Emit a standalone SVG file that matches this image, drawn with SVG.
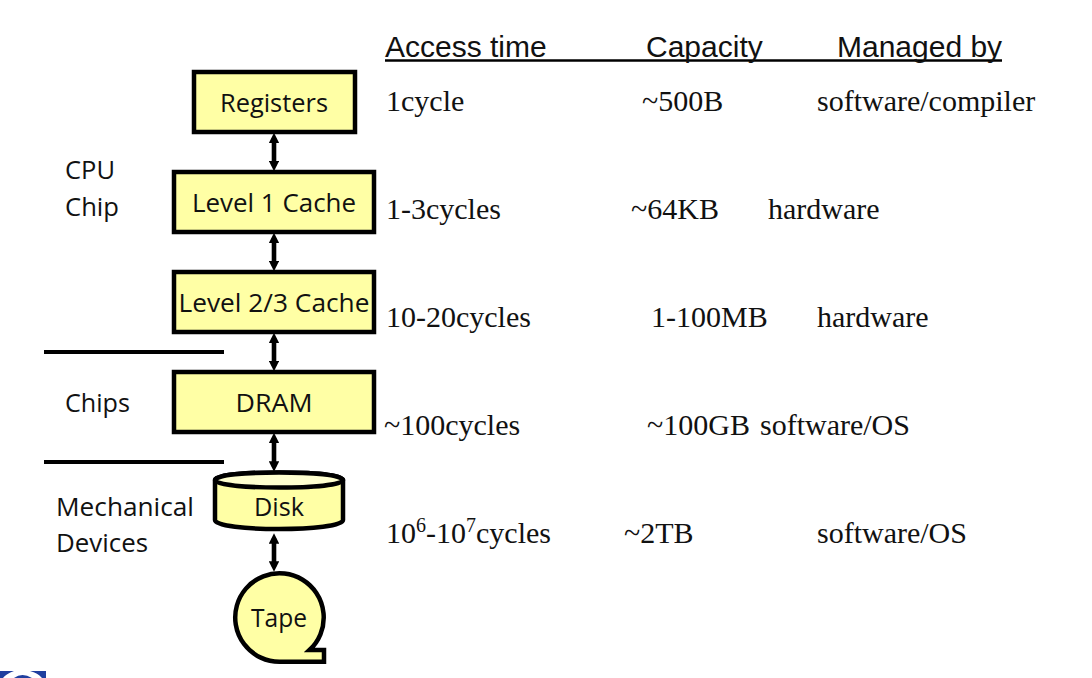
<svg xmlns="http://www.w3.org/2000/svg" width="1092" height="678" viewBox="0 0 1092 678">
<defs>
<marker id="a" viewBox="0 0 10 10" refX="5" refY="5" markerWidth="2.3" markerHeight="2.3" orient="auto-start-reverse" markerUnits="strokeWidth"><path d="M0 0L10 5L0 10Z" fill="#000"/></marker>
</defs>
<style>
.b{fill:#ffffa5;stroke:#000;stroke-width:4.5}
.s{font-family:"Open Sans","Noto Sans",sans-serif;font-size:26px;fill:#111;text-anchor:middle}
.l{font-family:"Open Sans","Noto Sans",sans-serif;font-size:26px;fill:#111}
.t{font-family:"Liberation Serif",serif;font-size:30px;fill:#111}
.h{font-family:"Liberation Sans",sans-serif;font-size:30px;fill:#111}
.c{stroke:#000;stroke-width:4.6;fill:none;marker-start:url(#a);marker-end:url(#a)}
.r{stroke:#000;stroke-width:4;fill:none}
</style>
<g id="connectors">
<path class="c" d="M274 138V166"/>
<path class="c" d="M274 238V266"/>
<path class="c" d="M274 338V366"/>
<path class="c" d="M274 438V466.500"/>
<path class="c" d="M274 538.500V566.500"/>
</g>
<g id="dividers"><path class="r" d="M44 352H224M44 462H224"/></g>
<g id="registers"><rect class="b" x="194" y="72" width="161" height="60"/><text class="s" x="274" y="112" textLength="108" lengthAdjust="spacingAndGlyphs">Registers</text></g>
<g id="l1"><rect class="b" x="174" y="172" width="200" height="60"/><text class="s" x="274" y="212" textLength="164" lengthAdjust="spacingAndGlyphs">Level 1 Cache</text></g>
<g id="l23"><rect class="b" x="174" y="272" width="200" height="60"/><text class="s" x="274" y="312" textLength="191" lengthAdjust="spacingAndGlyphs">Level 2/3 Cache</text></g>
<g id="dram"><rect class="b" x="174" y="372" width="200" height="60"/><text class="s" x="274" y="412" textLength="77" lengthAdjust="spacingAndGlyphs">DRAM</text></g>
<g id="disk">
<path class="b" d="M215 480C215 470 343 470 343 480V520C343 532 215 532 215 520Z"/>
<path d="M215 480C215 490 343 490 343 480C343 470 215 470 215 480Z" fill="#ffffcf" stroke="#000" stroke-width="4.5"/>
<text class="s" x="279" y="516" textLength="50" lengthAdjust="spacingAndGlyphs">Disk</text>
</g>
<g id="tape"><path class="b" d="M279.500 661.750A44.250 44.250 0 1 1 309.500 650H324V661.750Z"/><text class="s" x="279" y="627" textLength="56" lengthAdjust="spacingAndGlyphs">Tape</text></g>
<g id="levels">
<text class="l" x="65" y="179" textLength="50" lengthAdjust="spacingAndGlyphs">CPU</text>
<text class="l" x="65" y="216" textLength="54" lengthAdjust="spacingAndGlyphs">Chip</text>
<text class="l" x="65" y="412" textLength="65" lengthAdjust="spacingAndGlyphs">Chips</text>
<text class="l" x="56" y="516" textLength="138" lengthAdjust="spacingAndGlyphs">Mechanical</text>
<text class="l" x="56" y="552" textLength="92" lengthAdjust="spacingAndGlyphs">Devices</text>
</g>
<g id="header">
<path d="M385 60.500H1002" stroke="#000" stroke-width="2.500"/>
<text class="h" x="385" y="57">Access time</text>
<text class="h" x="646" y="57">Capacity</text>
<text class="h" x="837" y="57">Managed by</text>
</g>
<g id="table">
<text class="t" x="386" y="111">1cycle</text><text class="t" x="642" y="111">~500B</text><text class="t" x="817" y="111">software/compiler</text>
<text class="t" x="386" y="219">1-3cycles</text><text class="t" x="631" y="219">~64KB</text><text class="t" x="768" y="219">hardware</text>
<text class="t" x="386" y="327">10-20cycles</text><text class="t" x="651" y="327">1-100MB</text><text class="t" x="817" y="327">hardware</text>
<text class="t" x="384" y="435">~100cycles</text><text class="t" x="647" y="435">~100GB</text><text class="t" x="760" y="435">software/OS</text>
<text class="t" x="386" y="543">10<tspan font-size="20" dy="-11">6</tspan><tspan dy="11">-10</tspan><tspan font-size="20" dy="-11">7</tspan><tspan dy="11">cycles</tspan></text><text class="t" x="624" y="543">~2TB</text><text class="t" x="817" y="543">software/OS</text>
</g>
<path id="logo" d="M0 678V671H14Q6 674 3 678ZM30 671H46V678H42Q38 673 30 671ZM14 678Q22 672 32 678Z" fill="#1f3f9f"/>
</svg>
